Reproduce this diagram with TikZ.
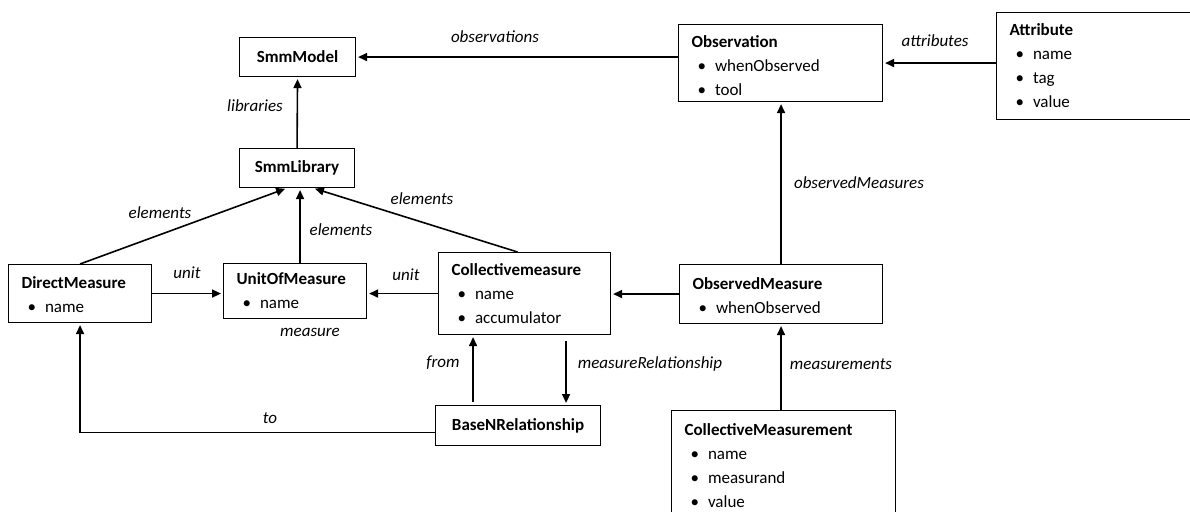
\documentclass[tikz,border=0pt]{standalone}
\usepackage{fontspec}
\setmainfont{Carlito}
\usetikzlibrary{
  arrows.meta,
  positioning
}

\newcommand{\itm}[1]{\hspace*{6pt}\textbullet\hspace{9pt}#1}

\begin{document}
\begin{tikzpicture}[
  x = 1pt, y = -1pt,
  % ── Class box with attribute list ───────────────────────
  classbox/.style={
    rectangle,
    draw        = black,
    line width  = 1.1pt,
    fill        = white,
    anchor      = north west,
    align       = left,
    inner xsep  = 13pt,
    inner ysep  = 0pt,
    font        = \fontsize{17}{24}\selectfont
  },
  % ── Class box with name only ────────────────────────────
  namebox/.style={
    rectangle,
    draw        = black,
    line width  = 1.1pt,
    fill        = white,
    anchor      = north west,
    align       = center,
    inner sep   = 0pt,
    font        = \fontsize{17}{20}\selectfont\bfseries
  },
  % ── Arrow ───────────────────────────────────────────────
  arr/.style={
    -{Triangle[length=9pt, width=8pt]},
    line width  = 1.6pt,
    shorten >=  2pt
  },
  % ── Role label ──────────────────────────────────────────
  lbl/.style={
    font      = \fontsize{17}{20}\selectfont\itshape,
    inner sep = 1pt
  }
]
\useasboundingbox (0,0) rectangle (1190,511);

% ── Nodes ──────────────────────────────────────────────────
\node[namebox, minimum width=116, minimum height=39] (smm)  at (239,37)  {SmmModel};
\node[namebox, minimum width=115, minimum height=39] (lib)  at (239,148) {SmmLibrary};
\node[namebox, minimum width=165, minimum height=40] (base) at (435,405) {BaseNRelationship};

\node[classbox, minimum width=204, minimum height=77,  text width=178] (obs)  at (678,24)
  {\rule{0pt}{17pt}\textbf{Observation}\\\itm{whenObserved}\\\itm{tool}};
\node[classbox, minimum width=210, minimum height=107, text width=184] (attr) at (996,12)
  {\textbf{Attribute}\\\itm{name}\\\itm{tag}\\\itm{value}};
\node[classbox, minimum width=143, minimum height=58,  text width=117] (dm)   at (8,264)
  {\rule{0pt}{15pt}\textbf{DirectMeasure}\\\itm{name}};
\node[classbox, minimum width=143, minimum height=55,  text width=117] (uom)  at (223,263)
  {\textbf{UnitOfMeasure}\\\itm{name}};
\node[classbox, minimum width=172, minimum height=82,  text width=146] (cm)   at (438,252)
  {\textbf{Collectivemeasure}\\\itm{name}\\\itm{accumulator}};
\node[classbox, minimum width=203, minimum height=59,  text width=177] (om)   at (679,264)
  {\rule{0pt}{15pt}\textbf{ObservedMeasure}\\\itm{whenObserved}};
\node[classbox, minimum width=224, minimum height=110, text width=198] (cmm)  at (671,410)
  {\textbf{CollectiveMeasurement}\\\itm{name}\\\itm{measurand}\\\itm{value}};

% ── Helper points ──────────────────────────────────────────
\coordinate (libL) at ([xshift=-10pt]lib.south);
\coordinate (libU) at ([xshift=3pt]lib.south);
\coordinate (libR) at ([xshift=16pt]lib.south);
\coordinate (cmN)  at ([xshift=-7pt]cm.north);
\coordinate (frB)  at ([xshift=-45pt]base.north);
\coordinate (mrB)  at ([xshift=48pt]base.north);
\coordinate (toB)  at ([yshift=-7pt]base.west);

% ── Arrows ─────────────────────────────────────────────────
\draw[arr] (obs.west |- smm.east) -- (smm.east);
\draw[arr] (attr.west |- obs.east) -- (obs.east);
\draw[arr] (lib.north) -- (smm.south);
\draw[arr] (dm.north) -- (libL);
\draw[arr] (uom.north -| libU) -- (libU);
\draw[arr] (cmN) -- (libR);
\draw[arr] (dm.east) -- (dm.east -| uom.west);
\draw[arr] (cm.west) -- (cm.west -| uom.east);
\draw[arr] (om.west) -- (om.west -| cm.east);
\draw[arr] (om.north) -- (om.north |- obs.south);
\draw[arr] (cmm.north -| om.south) -- (om.south);
\draw[arr] ([yshift=3pt]frB) -- (frB |- cm.south);
\draw[arr, shorten <=6pt] (mrB |- cm.south) -- (mrB);
\draw[arr] (toB) -| (dm.south);

% ── Labels ─────────────────────────────────────────────────
\node[lbl] (lobs)  at (495,37)  {observations};
\node[lbl] (lattr) at (935,41)  {attributes};
\node[lbl] (llib)  at (255,106) {libraries};
\node[lbl] (lel1)  at (160,213) {elements};
\node[lbl] (lel2)  at (341,230) {elements};
\node[lbl] (lel3)  at (422,199) {elements};
\node[lbl] (lun1)  at (187,273) {unit};
\node[lbl] (lun2)  at (406,275) {unit};
\node[lbl] (lmeas) at (310,332) {measure};
\node[lbl] (lobm)  at (859,183) {observedMeasures};
\node[lbl] (lfrom) at (443,363) {from};
\node[lbl] (lmr)   at (650,364) {measureRelationship};
\node[lbl] (lmts)  at (841,364) {measurements};
\node[lbl] (lto)   at (270,418) {to};

\end{tikzpicture}
\end{document}
